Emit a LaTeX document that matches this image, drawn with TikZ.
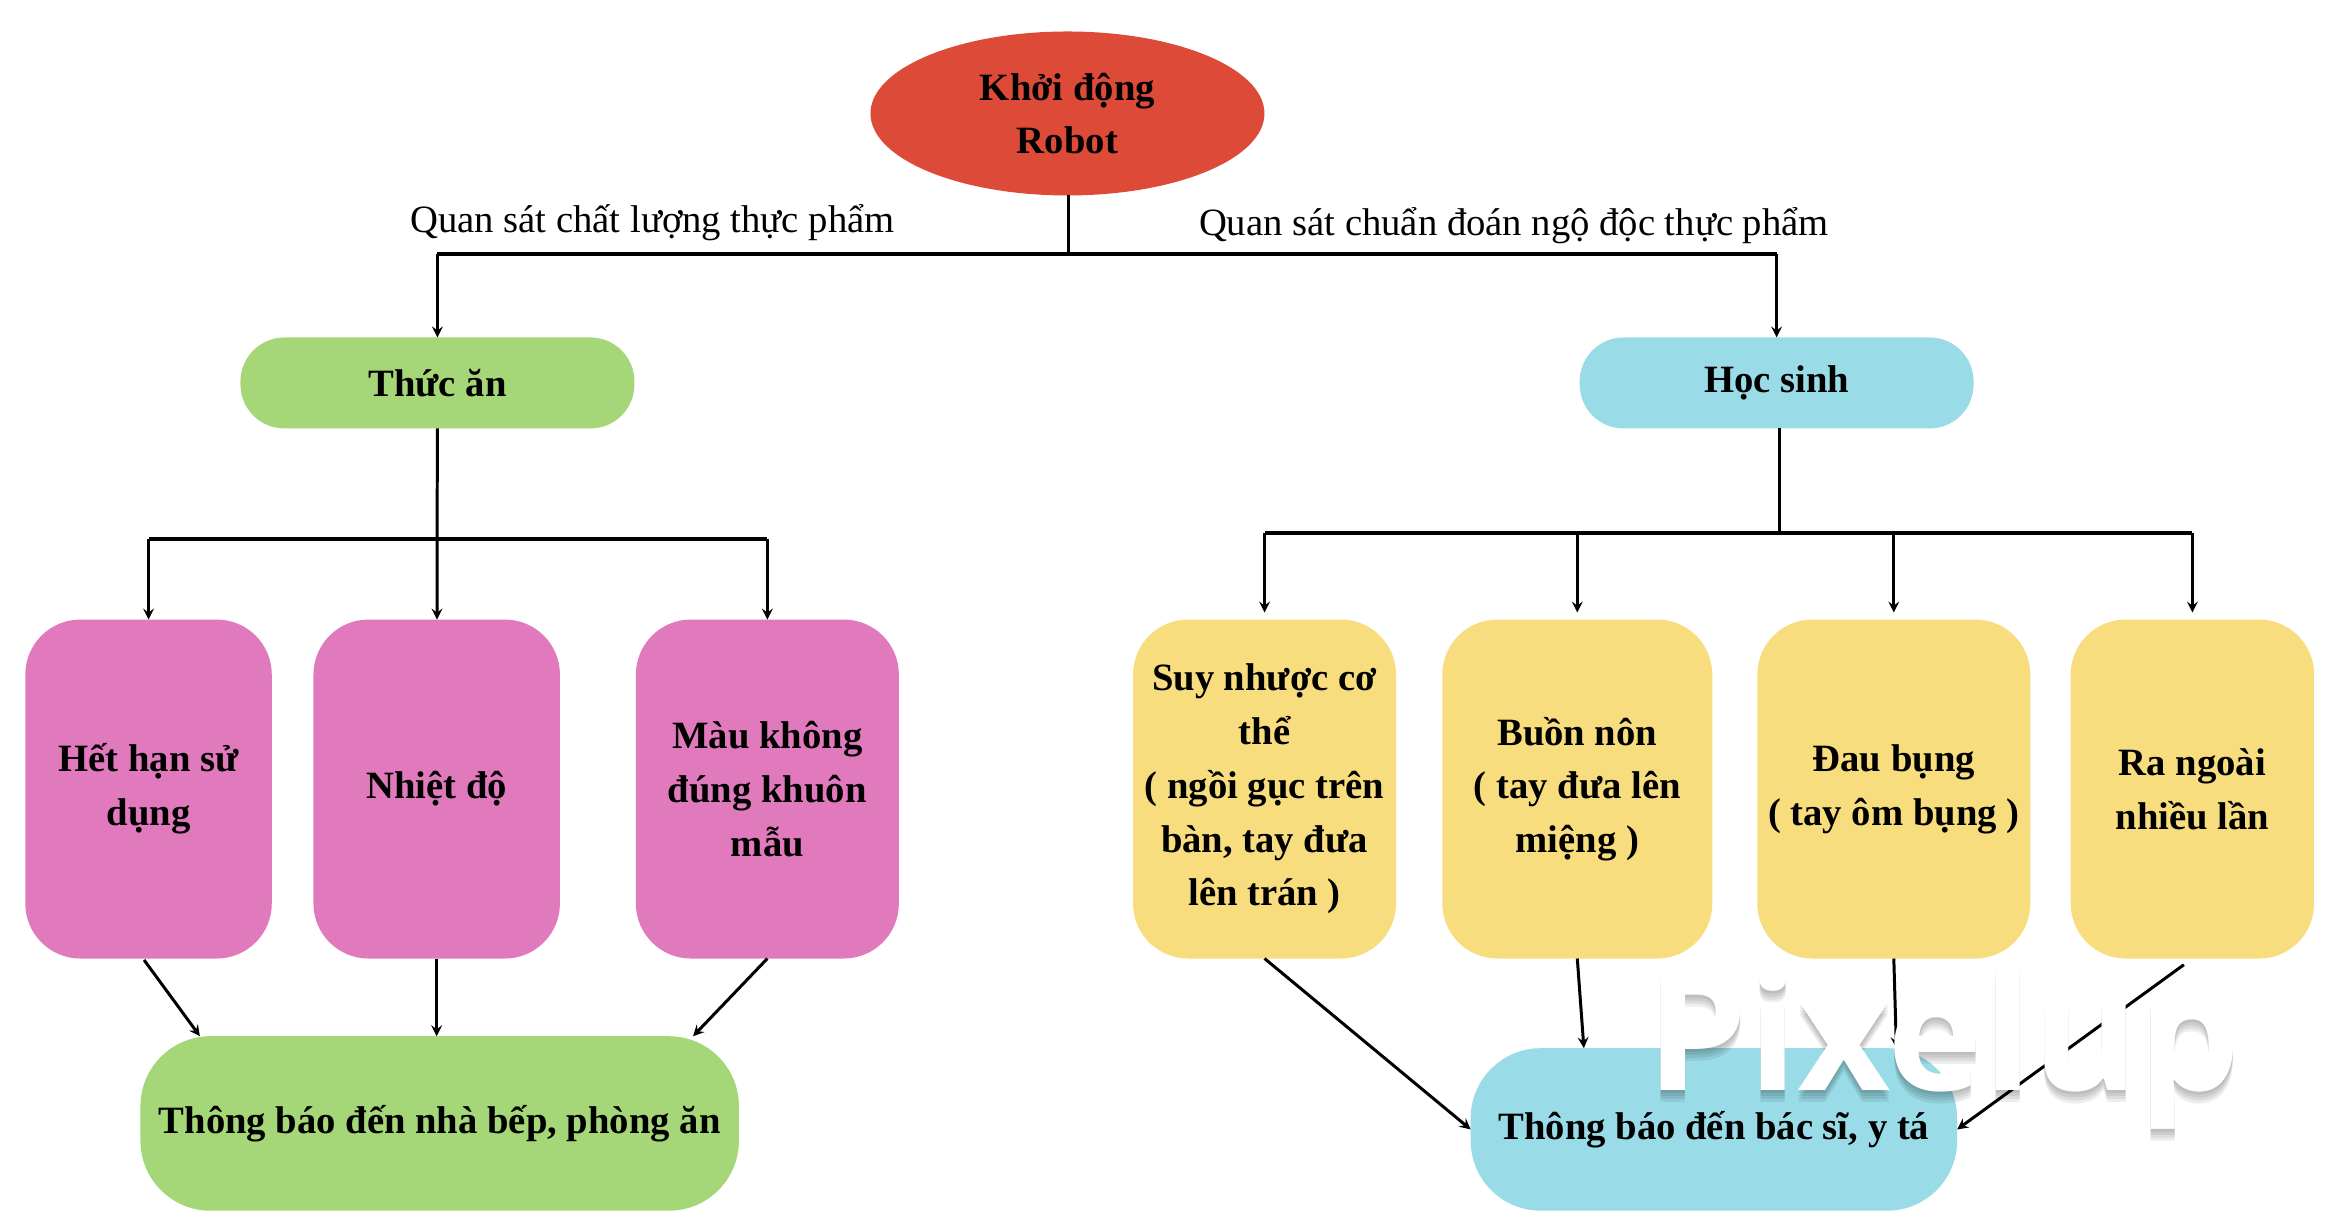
\documentclass[tikz,border=0pt]{standalone}
\usepackage{fontspec}
\setmainfont{Liberation Serif}
\newfontfamily\markfont{Open Sans}
\usetikzlibrary{shapes.geometric}
\definecolor{startred}{HTML}{DD4A38}
\definecolor{foodgreen}{HTML}{A5D677}
\definecolor{kidblue}{HTML}{99DBE6}
\definecolor{checkpink}{HTML}{E07ABD}
\definecolor{symyellow}{HTML}{F8DD7F}
\tikzset{
	txt/.style={font=\fontsize{22}{30.6}\selectfont\bfseries,align=center,text=black},
	lab/.style={font=\fontsize{22}{30.6}\selectfont,text=black},
	box/.style={txt,rectangle,inner sep=0pt,outer sep=0pt},
	pill/.style={box,minimum width=7.88cm,minimum height=1.82cm,rounded corners=.88cm},
	pinkbox/.style={box,fill=checkpink,minimum height=6.78cm,rounded corners=1.1cm},
	yellowbox/.style={box,fill=symyellow,minimum height=6.78cm,rounded corners=1.1cm},
	arr/.style={line width=1.7pt,-stealth,black},
	bar/.style={line width=2.6pt,black},
	stem/.style={line width=1.7pt,black}
}
\begin{document}
\begin{tikzpicture}[x=.02986cm,y=-.02986cm]
	\useasboundingbox (0,0) rectangle (1560,814.5);
	\node[box,ellipse,fill=startred,minimum width=7.88cm,minimum height=3.28cm] (start) at (715,76) {Khởi động\\Robot};
	\node[lab] (labfood) at (437,149) {Quan sát chất lượng thực phẩm};
	\node[lab] (labkid) at (1014,151) {Quan sát chuẩn đoán ngộ độc thực phẩm};
	\node[pill,fill=foodgreen] (food) at (293,256.5) {Thức ăn};
	\node[pill,fill=kidblue] (kid) at (1190,256.5) {Học sinh};
	% left column
	\node[pinkbox,minimum width=4.93cm] (expired) at (99.5,528.5) {Hết hạn sử\\dụng};
	\node[pinkbox,minimum width=4.93cm] (temp) at (292.5,528.5) {Nhiệt độ};
	\node[pinkbox,minimum width=5.26cm] (colour) at (514,528.5) {Màu không\\đúng khuôn\\mẫu};
	\node[box,fill=foodgreen,minimum width=11.97cm,minimum height=3.49cm,rounded corners=1.4cm] (kitchen) at (294.5,752.5) {Thông báo đến nhà bếp, phòng ăn};
	% right column
	\node[yellowbox,minimum width=5.26cm] (weak) at (847,528.5) {Suy nhược cơ\\thể\\( ngồi gục trên\\bàn, tay đưa\\lên trán )};
	\node[yellowbox,minimum width=5.40cm] (nausea) at (1056.5,528.5) {Buồn nôn\\( tay đưa lên\\miệng )};
	\node[yellowbox,minimum width=5.46cm] (belly) at (1268.5,528.5) {Đau bụng\\( tay ôm bụng )};
	\node[yellowbox,minimum width=4.87cm] (out) at (1468.5,528.5) {Ra ngoài\\nhiều lần};
	\node[box,fill=kidblue,minimum width=9.73cm,minimum height=3.25cm,rounded corners=1.4cm] (doctor) at (1148,756.5) {Thông báo đến bác sĩ, y tá};
	\coordinate (topbus) at (716,170);
	\coordinate (foodbus) at (293,361);
	\coordinate (kidbus) at (1192,357);
	\draw[stem] (start.south -| topbus) -- (topbus);
	\draw[bar] (food.north |- topbus) -- (kid.north |- topbus);
	\draw[arr] (food.north |- topbus) -- (food);
	\draw[arr] (kid.north |- topbus) -- (kid);
	\draw[arr] (food) -- (temp);
	\draw[stem] (kid.south -| kidbus) -- (kidbus);
	\draw[bar] (expired.north |- foodbus) -- (colour.north |- foodbus);
	\draw[bar] (weak.north |- kidbus) -- (out.north |- kidbus);
	\foreach \a in {expired,colour}{\draw[arr] (\a.north |- foodbus) -- (\a);}
	\foreach \a in {weak,nausea,belly,out}{\draw[arr,shorten >=4pt] (\a.north |- kidbus) -- (\a);}
	\draw[arr] (expired) ++(-3,114.5) -- (kitchen.160.9);
	\draw[arr] (temp.south) -- (temp.south |- kitchen.north);
	\draw[arr] (colour.south) -- (kitchen.19.5);
	\draw[arr] (weak.south) -- (doctor.west);
	\draw[arr] (nausea.south) -- (doctor.148.8);
	\draw[arr] (belly.south) -- (doctor.24.4);
	\draw[arr,shorten <=6pt] (out.south) -- (doctor.east);
	% watermark
	\foreach \d in {2,4,6,8}{\node[opacity=.07,text=black,font=\markfont\fontsize{92}{92}\selectfont\bfseries,inner sep=0pt] (markshade\d) at (1302,{702+\d}) {Pixelup};}
	\node[text=white,font=\markfont\fontsize{92}{92}\selectfont\bfseries,inner sep=0pt] (mark) at (1302,702) {Pixelup};
\end{tikzpicture}
\end{document}
